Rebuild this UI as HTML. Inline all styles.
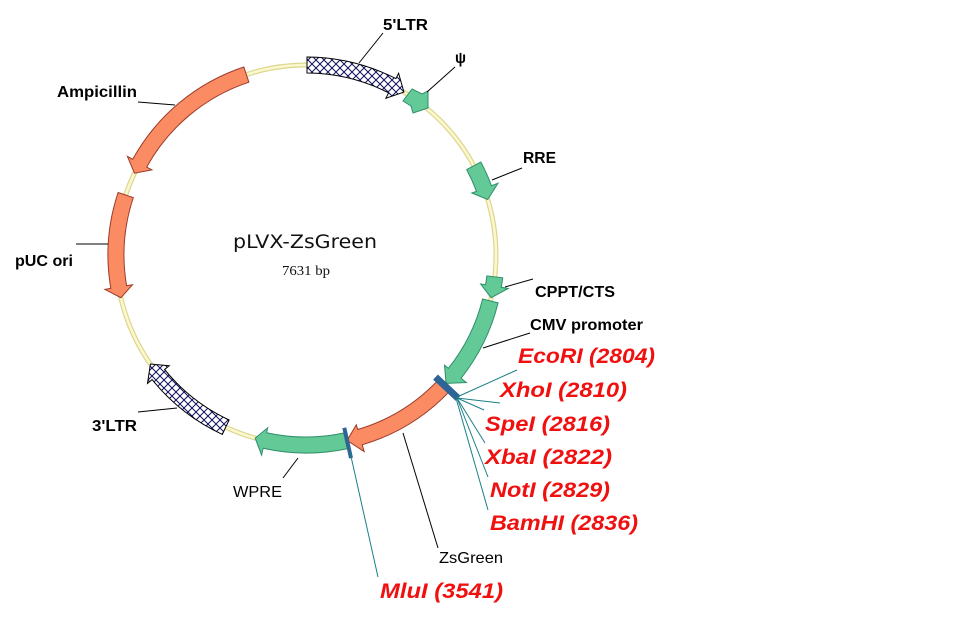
<!DOCTYPE html>
<html>
<head>
<meta charset="utf-8">
<style>
  html, body { margin:0; padding:0; background:#ffffff; }
  svg { display:block; }
  .lbl { font-family:"Liberation Sans", Arial, sans-serif; font-size:16px; font-weight:bold; fill:#000; }
  .lblr { font-family:"Liberation Sans", Arial, sans-serif; font-size:16px; font-weight:normal; fill:#000; }
  .red { font-family:"Liberation Sans", Arial, sans-serif; font-size:21px; font-weight:bold; font-style:italic; fill:#f01010; }
  .ld { stroke:#000; stroke-width:1; fill:none; }
  .tl { stroke:#1a7f86; stroke-width:1; fill:none; }
  .org { fill:#fa8b62; stroke:#9b3b2b; stroke-width:1; }
  .grn { fill:#62c997; stroke:#2f8f6a; stroke-width:1; }
  .hat { fill:url(#hatch); stroke:#000; stroke-width:1; }
</style>
</head>
<body>
<svg width="960" height="626" viewBox="0 0 960 626" xmlns="http://www.w3.org/2000/svg">
  <defs>
    <pattern id="hatch" patternUnits="userSpaceOnUse" width="8" height="8">
      <rect width="8" height="8" fill="#ffffff"/>
      <path d="M0,0 L8,8 M8,0 L0,8" stroke="#101060" stroke-width="1"/>
    </pattern>
  </defs>

  <!-- backbone -->
  <circle cx="306" cy="255" r="190" fill="none" stroke="#ddd68e" stroke-width="5"/>
  <circle cx="306" cy="255" r="190" fill="none" stroke="#fbf8cf" stroke-width="2.6"/>

  <!-- 5'LTR -->
  <path class="hat" d="M307,57 A198,198 0 0 1 395.9,78.6 L398.6,73.2 L403.9,92.1 L385.9,98.2 L388.6,92.8 A182,182 0 0 0 307,73 Z"/>
  <!-- psi -->
  <polygon class="grn" points="412,89 422,94 428,91 428,108 413,113 411,106 403,101"/>
  <!-- RRE -->
  <path class="grn" d="M480.8,162 A198,198 0 0 1 491.5,185.7 L498,183.2 L487.7,199.5 L471.8,193 L476.5,191.3 A182,182 0 0 0 466.7,169.6 Z"/>
  <!-- CPPT/CTS -->
  <path class="grn" d="M502.7,277.8 A198,198 0 0 1 501.3,287.3 L508.2,288.5 L491.1,297.7 L480.6,283.9 L485.6,284.7 A182,182 0 0 0 486.8,275.9 Z"/>
  <!-- CMV promoter -->
  <path class="grn" d="M498.1,302.9 A198,198 0 0 1 461,378.3 L466.4,382.6 L446.1,383.4 L444.5,365.2 L448.4,368.3 A182,182 0 0 0 482.6,299 Z"/>
  <!-- ZsGreen -->
  <path class="org" d="M449.6,391.3 A198,198 0 0 1 362.2,444.8 L364.2,451.6 L347.1,440.5 L356.3,424.7 L357.7,429.5 A182,182 0 0 0 438,380.3 Z"/>
  <!-- WPRE -->
  <path class="grn" d="M347.2,448.7 A198,198 0 0 1 263.1,448.3 L261.6,455.1 L255.2,438.1 L267.7,427.8 L266.6,432.7 A182,182 0 0 0 343.8,433 Z"/>
  <!-- 3'LTR -->
  <path class="hat" d="M222.3,434.4 A198,198 0 0 1 152.1,379.6 L147.5,383.4 L150.4,364 L169.2,365.8 L164.6,369.5 A182,182 0 0 0 229.1,420 Z"/>
  <!-- pUC ori -->
  <path class="org" d="M118.1,192.5 A198,198 0 0 0 110.8,288.4 L104.9,289.4 L120.9,297.7 L132.5,284.7 L126.6,285.7 A182,182 0 0 1 133.3,197.6 Z"/>
  <!-- Ampicillin -->
  <path class="org" d="M243.8,67 A198,198 0 0 0 132.7,159.3 L127.4,156.4 L134.5,173.2 L151.9,169.9 L146.7,167 A182,182 0 0 1 248.9,82.2 Z"/>

  <!-- restriction site bars -->
  <line x1="435.5" y1="377.1" x2="458.1" y2="398.3" stroke="#2f6496" stroke-width="7"/>
  <line x1="344.3" y1="427.8" x2="351" y2="458.1" stroke="#2f6496" stroke-width="4"/>

  <!-- teal leader lines -->
  <line class="tl" x1="457" y1="397" x2="517" y2="370"/>
  <line class="tl" x1="457" y1="398" x2="500" y2="403"/>
  <line class="tl" x1="457" y1="398" x2="484" y2="410"/>
  <line class="tl" x1="457" y1="398" x2="485" y2="443"/>
  <line class="tl" x1="457" y1="398" x2="488" y2="477"/>
  <line class="tl" x1="456" y1="398" x2="488" y2="510"/>
  <line class="tl" x1="350" y1="452" x2="378" y2="577"/>

  <!-- black leader lines -->
  <line class="ld" x1="383" y1="33" x2="359" y2="63"/>
  <line class="ld" x1="455" y1="67" x2="427" y2="92"/>
  <line class="ld" x1="138" y1="102" x2="175" y2="105"/>
  <line class="ld" x1="522" y1="168" x2="492" y2="180"/>
  <line class="ld" x1="533" y1="279" x2="505" y2="287"/>
  <line class="ld" x1="530" y1="333" x2="483" y2="348"/>
  <line class="ld" x1="76" y1="244" x2="108" y2="244"/>
  <line class="ld" x1="138" y1="412" x2="177" y2="408"/>
  <line class="ld" x1="283" y1="478" x2="298" y2="458"/>
  <line class="ld" x1="438" y1="548" x2="403" y2="433"/>

  <!-- black labels -->
  <text class="lbl" x="383" y="30" textLength="45" lengthAdjust="spacingAndGlyphs">5'LTR</text>
  <text class="lbl" x="455" y="63" textLength="11" lengthAdjust="spacingAndGlyphs">ψ</text>
  <text class="lbl" x="57" y="97" textLength="80" lengthAdjust="spacingAndGlyphs">Ampicillin</text>
  <text class="lbl" x="523" y="163" textLength="33" lengthAdjust="spacingAndGlyphs">RRE</text>
  <text class="lbl" x="535" y="297" textLength="80" lengthAdjust="spacingAndGlyphs">CPPT/CTS</text>
  <text class="lbl" x="530" y="330" textLength="113" lengthAdjust="spacingAndGlyphs">CMV promoter</text>
  <text class="lbl" x="15" y="266" textLength="58" lengthAdjust="spacingAndGlyphs">pUC ori</text>
  <text class="lbl" x="92" y="431" textLength="45" lengthAdjust="spacingAndGlyphs">3'LTR</text>
  <text class="lblr" x="233" y="497" textLength="49" lengthAdjust="spacingAndGlyphs">WPRE</text>
  <text class="lblr" x="439" y="563" textLength="64" lengthAdjust="spacingAndGlyphs">ZsGreen</text>

  <!-- red restriction labels -->
  <text class="red" x="518" y="363" textLength="137" lengthAdjust="spacingAndGlyphs">EcoRI (2804)</text>
  <text class="red" x="500" y="397" textLength="127" lengthAdjust="spacingAndGlyphs">XhoI (2810)</text>
  <text class="red" x="485" y="431" textLength="125" lengthAdjust="spacingAndGlyphs">SpeI (2816)</text>
  <text class="red" x="485" y="464" textLength="127" lengthAdjust="spacingAndGlyphs">XbaI (2822)</text>
  <text class="red" x="490" y="497" textLength="120" lengthAdjust="spacingAndGlyphs">NotI (2829)</text>
  <text class="red" x="490" y="530" textLength="148" lengthAdjust="spacingAndGlyphs">BamHI (2836)</text>
  <text class="red" x="380" y="598" textLength="123" lengthAdjust="spacingAndGlyphs">MluI (3541)</text>

  <!-- center title -->
  <text x="233" y="248" font-family="'DejaVu Sans', 'Liberation Sans', sans-serif" font-size="19" fill="#111" textLength="144" lengthAdjust="spacingAndGlyphs">pLVX-ZsGreen</text>
  <text x="282" y="275" font-family="'Liberation Serif', 'DejaVu Serif', serif" font-size="14" fill="#111" textLength="48" lengthAdjust="spacingAndGlyphs">7631 bp</text>
</svg>
</body>
</html>
